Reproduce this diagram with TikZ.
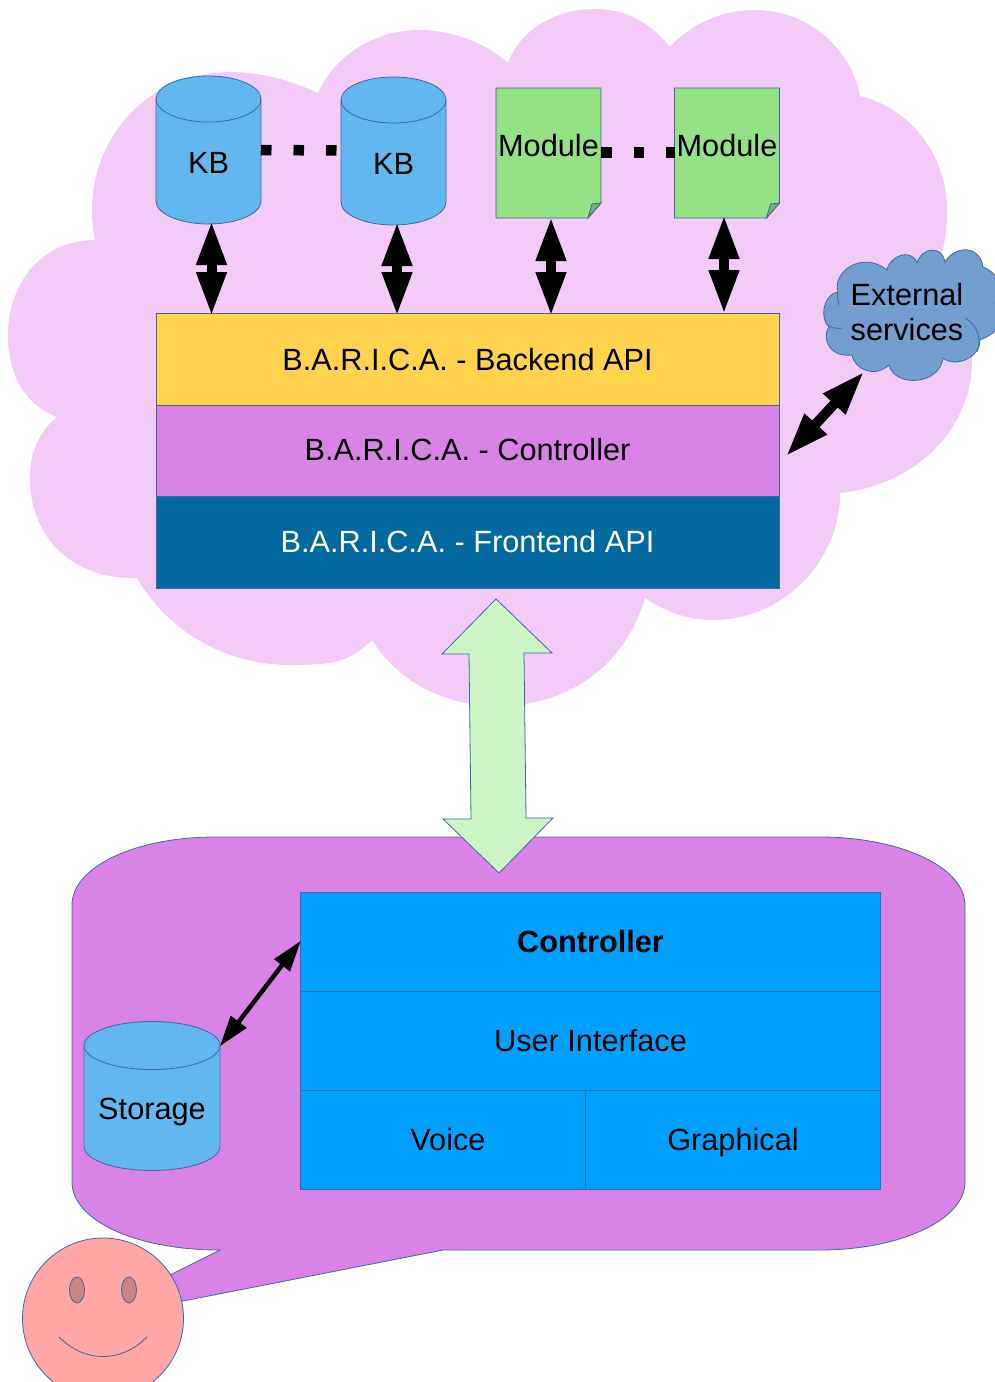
\documentclass[tikz,border=0pt]{standalone}
\usepackage{fontspec}
\setmainfont{Liberation Sans}
\usetikzlibrary{shapes.geometric,arrows.meta,calc}
\definecolor{pinkbg}{HTML}{F2CBF7}
\definecolor{edgeblue}{HTML}{3F67A8}
\definecolor{kbblue}{HTML}{62B8EE}
\definecolor{modgreen}{HTML}{95E186}
\definecolor{foldgreen}{HTML}{77B46B}
\definecolor{apiyellow}{HTML}{FFD34D}
\definecolor{purplex}{HTML}{D983E6}
\definecolor{frontblue}{HTML}{03699F}
\definecolor{extblue}{HTML}{729FCF}
\definecolor{paleg}{HTML}{CCF4C6}
\definecolor{ctrlblue}{HTML}{00A0FF}
\definecolor{facepink}{HTML}{FFA6A6}
\definecolor{eyepink}{HTML}{CC8484}
\tikzset{
  every node/.style={outer sep=0pt,inner sep=0pt,font=\fontsize{30.7}{35}\selectfont},
  evenline/.style={text height=22pt,text depth=0pt},
  thinedge/.style={draw=edgeblue,line width=0.8pt},
  cylslot/.style={shape=rectangle,anchor=south},
  modbox/.style={minimum width=105pt,minimum height=130pt},
  layerbox/.style={shape=rectangle,thinedge,minimum width=623pt,evenline},
  cellbox/.style={shape=rectangle,thinedge,fill=ctrlblue,evenline},
  fatarrow/.style={line width=10pt,shorten <=-3pt,shorten >=-3pt,{Triangle[length=44pt,width=28pt]}-{Triangle[length=44pt,width=28pt]}},
  slimarrow/.style={line width=4.5pt,shorten <=-1pt,shorten >=-1pt,{Triangle[length=31pt,width=19pt]}-{Triangle[length=31pt,width=19pt]}},
  dotline/.style={line width=10.5pt,dash pattern=on 10.5pt off 22pt},
}
\newcommand{\cylbody}[2]{%
  \draw[thinedge,fill=kbblue] let \p1=(#1.north west), \p2=(#1.south east), \n1={(\x2-\x1)/2} in
    (\x1,\y1-#2) -- (\x1,\y2+#2) arc[start angle=180,end angle=360,x radius=\n1,y radius=#2]
    -- (\x2,\y1-#2) arc[start angle=0,end angle=180,x radius=\n1,y radius=#2] -- cycle;
  \draw[thinedge] let \p1=(#1.north west), \p2=(#1.south east), \n1={(\x2-\x1)/2} in
    (\x1,\y1-#2) arc[start angle=180,end angle=360,x radius=\n1,y radius=#2];
}
\begin{document}
\begin{tikzpicture}[x=1pt,y=-1pt]
\useasboundingbox (0,0) rectangle (995,1382);
\clip (0,0) rectangle (995,1382);
% big cloud
\fill[pinkbg] (95,240) .. controls (40,240) and (8,285) .. (8,335)
 .. controls (8,375) and (25,405) .. (57,417)
 .. controls (35,435) and (29,460) .. (30,482)
 .. controls (32,540) and (75,580) .. (137,578)
 .. controls (170,635) and (230,665) .. (290,665)
 .. controls (340,665) and (350,660) .. (372,640)
 .. controls (400,685) and (450,706) .. (497,706)
 .. controls (570,706) and (625,665) .. (645,598)
 .. controls (665,612) and (690,620) .. (712,620)
 .. controls (785,620) and (840,560) .. (840,493)
 .. controls (915,485) and (972,430) .. (972,360)
 .. controls (972,330) and (950,290) .. (935,270)
 .. controls (945,250) and (947,230) .. (947,210)
 .. controls (947,155) and (910,108) .. (860,96)
 .. controls (850,45) and (805,10) .. (755,10)
 .. controls (720,10) and (690,25) .. (670,47)
 .. controls (650,22) and (625,9) .. (595,9)
 .. controls (555,9) and (520,30) .. (508,63)
 .. controls (485,42) and (450,30) .. (420,30)
 .. controls (375,30) and (335,55) .. (318,93)
 .. controls (290,80) and (260,72) .. (230,72)
 .. controls (150,72) and (92,135) .. (92,210)
 .. controls (92,220) and (93,230) .. (95,240) -- cycle;
% KB cylinders
\node[cylslot,minimum width=105pt,minimum height=148pt] (kb1) at (208.5,224) {};
\node[cylslot,minimum width=105pt,minimum height=148pt] (kb2) at (393.5,225) {};
\cylbody{kb1}{23pt}
\cylbody{kb2}{23pt}
\node[evenline] (kb1t) at (208.5,162.5) {KB};
\node[evenline] (kb2t) at (393.5,163.5) {KB};
\draw[dotline] (kb1.east |- 0,150) -- (kb2.west |- 0,150.5);
% modules
\node[modbox] (m1) at (548.5,153) {};
\node[modbox] (m2) at (727,153) {};
\foreach \m in {m1,m2}{
  \fill[modgreen] (\m.north west) -- (\m.north east) -- ($(\m.south east)+(0,-15)$) -- ($(\m.south east)+(-13,0)$) -- (\m.south west) -- cycle;
  \draw[thinedge,fill=foldgreen] ($(\m.south east)+(-13,0)$) -- ($(\m.south east)+(-9,-14)$) -- ($(\m.south east)+(0,-15)$) -- cycle;
  \draw[thinedge] (\m.north west) -- (\m.north east) -- ($(\m.south east)+(0,-15)$) -- ($(\m.south east)+(-13,0)$) -- (\m.south west) -- cycle;
}
\draw[dotline] (m1.east |- 0,152.5) -- (m2.west |- 0,152.5);
\node[evenline] (m1t) at (548.5,145) {Module};
\node[evenline] (m2t) at (727,145) {Module};
% stack
\node[layerbox,fill=apiyellow,minimum height=92pt] (backend) at (467.5,359) {B.A.R.I.C.A. - Backend API};
\node[layerbox,fill=purplex,minimum height=91pt,text depth=2pt] (ctrlapi) at (467.5,450.5) {B.A.R.I.C.A. - Controller};
\node[layerbox,fill=frontblue,minimum height=92pt,text=white,text depth=2pt] (front) at (467.5,542) {B.A.R.I.C.A. - Frontend API};
% fat arrows
\coordinate (a1) at ($(kb1.south)+(3,0)$);
\coordinate (a2) at ($(kb2.south)+(3.5,0)$);
\coordinate (a3) at (551,220);
\coordinate (a4) at (724,218);
\draw[fatarrow] (a1) -- (a1 |- backend.north);
\draw[fatarrow] (a2) -- (a2 |- backend.north);
\draw[fatarrow] (a3) -- (a3 |- backend.north);
\draw[fatarrow] (a4) -- ($(a4 |- backend.north)+(0,-2)$);
% external cloud
\draw[thinedge,fill=extblue] (838,292) .. controls (832,272) and (862,250) .. (887,270)
 .. controls (890,255) and (912,248) .. (917,263)
 .. controls (922,247) and (942,245) .. (945,262)
 .. controls (955,245) and (980,245) .. (983,267)
 .. controls (992,270) and (1010,285) .. (995,303)
 .. controls (1005,315) and (1005,330) .. (980,340)
 .. controls (980,358) and (955,368) .. (943,358)
 .. controls (940,385) and (895,388) .. (889,365)
 .. controls (875,378) and (855,370) .. (852,355)
 .. controls (827,358) and (822,335) .. (829,327)
 .. controls (820,320) and (822,295) .. (838,292) -- cycle;
\draw[thinedge] (827,325) .. controls (832,328) and (838,329) .. (842,328);
\draw[thinedge] (838,292) .. controls (837,297) and (838,302) .. (839,305);
\draw[thinedge] (965,318) .. controls (978,325) and (982,340) .. (977,352);
\node[align=left] (ext) at (907,312.5) {External\\services};
\coordinate (extfoot) at (862,374);
\coordinate (ctrlside) at (788,454);
\draw[fatarrow] (extfoot) -- (ctrlside);
% speech bubble
\draw[thinedge,fill=purplex] (215,837) -- (820,837)
  .. controls (900,837) and (965,867) .. (965,905)
  -- (965,1182) .. controls (965,1220) and (900,1250) .. (820,1250)
  -- (443,1250) -- (76,1322) -- (220,1250)
  .. controls (135,1250) and (72,1220) .. (72,1182)
  -- (72,905) .. controls (72,867) and (135,837) .. (215,837) -- cycle;
% big arrow
\draw[thinedge,fill=paleg] (496,599) -- (552,653) -- (524,653) -- (526,818) -- (553,818) -- (499,873)
  -- (443,819) -- (471,819) -- (469,654) -- (442,654) -- cycle;
% controller table
\node[cellbox,minimum width=580.5pt,minimum height=99pt] (ctl) at (590.5,941.5) {\bfseries Controller};
\node[cellbox,minimum width=580.5pt,minimum height=99pt] (ui) at (590.5,1040.5) {User Interface};
\node[cellbox,minimum width=285pt,minimum height=99pt] (voice) at (442.75,1139.5) {};
\node[cellbox,minimum width=295.5pt,minimum height=99pt] (graph) at (733,1139.5) {Graphical};
\node[evenline] at (448,1139.5) (voicet) {Voice};
% storage
\node[cylslot,minimum width=136pt,minimum height=149pt] (store) at (152,1170.5) {};
\cylbody{store}{24pt}
\node[evenline] (storet) at (152,1108) {Storage};
\coordinate (storeport) at ($(store.north east)+(0.5,24)$);
\draw[slimarrow] (ctl.west) -- (storeport);
% face
\draw[thinedge,fill=facepink] (103,1318.5) ellipse [x radius=80.5pt,y radius=80.5pt];
\node[thinedge,fill=eyepink,shape=ellipse,minimum width=15pt,minimum height=26pt] (eyeL) at (77,1290) {};
\node[thinedge,fill=eyepink,shape=ellipse,minimum width=15pt,minimum height=26pt] (eyeR) at (129,1290) {};
\draw[thinedge] (59,1337) .. controls (85,1363) and (121,1363) .. (147,1337);
\end{tikzpicture}
\end{document}
